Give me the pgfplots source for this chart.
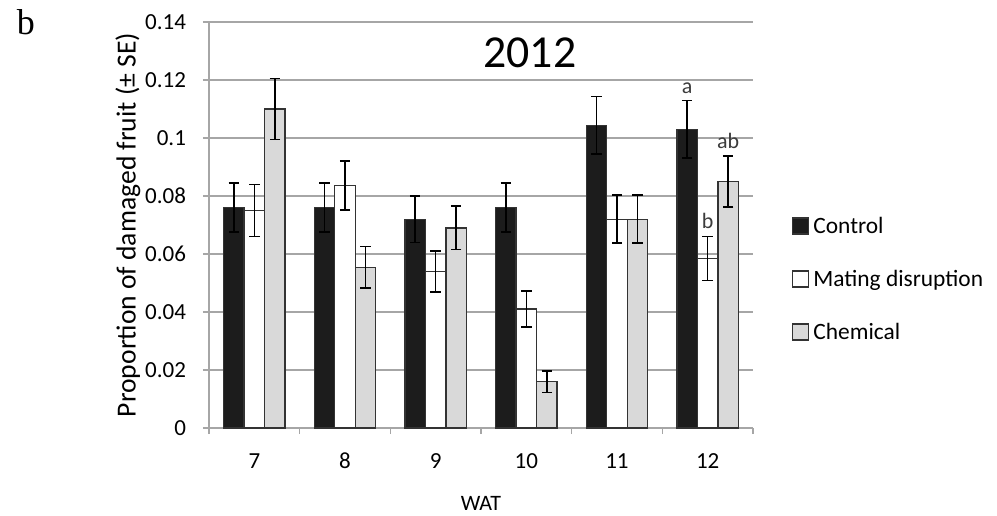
\documentclass[border=0pt]{standalone}
\usepackage{pgfplots}
\pgfplotsset{compat=1.18}
\usepackage{pgfplotstable}
\usepackage{fontspec}
\setmainfont{Carlito}
\newfontfamily\panelfont{Liberation Serif}

\definecolor{ctrlfill}{HTML}{1C1C1C}
\definecolor{chemfill}{HTML}{D9D9D9}
\definecolor{barline}{HTML}{333333}
\definecolor{gridgray}{HTML}{A6A6A6}
\definecolor{lettergray}{HTML}{3C3C3C}

% proportion of damaged fruit and its SE, per week after treatment (WAT 7..12 at x=1..6)
\pgfplotstableread{
wk ctrl   ctrlse md     mdse   chem   chemse
1  0.0760 0.0085 0.0750 0.0090 0.1100 0.0105
2  0.0760 0.0085 0.0836 0.0085 0.0554 0.0072
3  0.0720 0.0080 0.0540 0.0070 0.0690 0.0075
4  0.0760 0.0085 0.0410 0.0062 0.0160 0.0037
5  0.1044 0.0099 0.0720 0.0083 0.0720 0.0083
6  0.1030 0.0099 0.0585 0.0076 0.0850 0.0088
}\damage

\begin{document}
\begin{tikzpicture}
\useasboundingbox (-104.5pt,-43.5pt) rectangle (394pt,214pt);
\begin{axis}[
  scale only axis, width=272pt, height=203pt,
  xmin=0.5, xmax=6.5, ymin=0, ymax=0.14,
  axis lines*=left,
  axis line style={gridgray, line width=0.8pt},
  ybar, bar width=0.226,
  ytick={0,0.02,0.04,0.06,0.08,0.1,0.12,0.14},
  yticklabels={0,0.02,0.04,0.06,0.08,0.1,0.12,0.14},
  ymajorgrids, grid style={gridgray, line width=0.8pt},
  tick align=outside, major tick length=3pt,
  tick style={gridgray, line width=0.8pt},
  xtick={0.5,1.5,...,6.5},
  xticklabels={7,8,9,10,11,12,{}},
  /pgf/number format/assume math mode=true,
  tick label style={font=\fontsize{11.5}{13}\selectfont, text=black},
  xticklabel style={anchor=north, inner sep=0pt, text height=7.5pt, text depth=0pt,
    xshift=22.667pt, yshift=-9.5pt},
  yticklabel style={xshift=-5pt},
  xlabel={WAT},
  every axis x label/.style={at={(axis description cs:0.5,-0.187)}, anchor=center, font=\fontsize{11}{13}\selectfont},
  ylabel={Proportion of damaged fruit (± SE)},
  every axis y label/.style={at={(axis description cs:-0.149,0.5)}, rotate=90, anchor=center, font=\fontsize{13.8}{16}\selectfont},
  error bars/y dir=both, error bars/y explicit,
  error bars/error mark=|,
  error bars/error bar style={black, line width=0.8pt},
  error bars/error mark options={black, line width=0.8pt, mark size=2.6pt},
  legend image code/.code={\draw[#1] (0pt,-3.5pt) rectangle (8pt,4.5pt);},
  legend cell align=left,
  legend style={at={(1.0717,0.522)}, anchor=north west, draw=none, fill=none,
    inner sep=0pt, outer sep=0pt,
    font=\fontsize{11.7}{14}\selectfont, row sep=15.5pt,
    nodes={inner sep=0pt, text height=8.5pt, text depth=2.5pt},
    /tikz/every odd column/.append style={column sep=2pt}},
]
\addplot[fill=ctrlfill, draw=barline, line width=0.7pt, bar shift=-0.226]
  table[x=wk, y=ctrl, y error=ctrlse]{\damage};
\addlegendentry{Control}
\addplot[fill=white, draw=barline, line width=0.7pt, bar shift=0]
  table[x=wk, y=md, y error=mdse]{\damage};
\addlegendentry{Mating disruption}
\addplot[fill=chemfill, draw=barline, line width=0.7pt, bar shift=0.226]
  table[x=wk, y=chem, y error=chemse]{\damage};
\addlegendentry{Chemical}

% significance letters at WAT 12
\node[anchor=base, inner sep=0pt, yshift=3.5pt, text=lettergray, font=\fontsize{11}{13}\selectfont]
  at (axis cs:5.774,0.1129) {a};
\node[anchor=base, inner sep=0pt, yshift=3.8pt, text=lettergray, font=\fontsize{11}{13}\selectfont]
  at (axis cs:6.000,0.0661) {b};
\node[anchor=base, inner sep=0pt, yshift=3.8pt, text=lettergray, font=\fontsize{11}{13}\selectfont]
  at (axis cs:6.226,0.0938) {ab};

\node[font=\fontsize{22.9}{26}\selectfont] at (rel axis cs:0.59,0.925) {2012};
\end{axis}
\node[font=\panelfont\fontsize{18}{20}\selectfont, anchor=center] at (-91.5pt,203pt) {b};
\end{tikzpicture}
\end{document}
